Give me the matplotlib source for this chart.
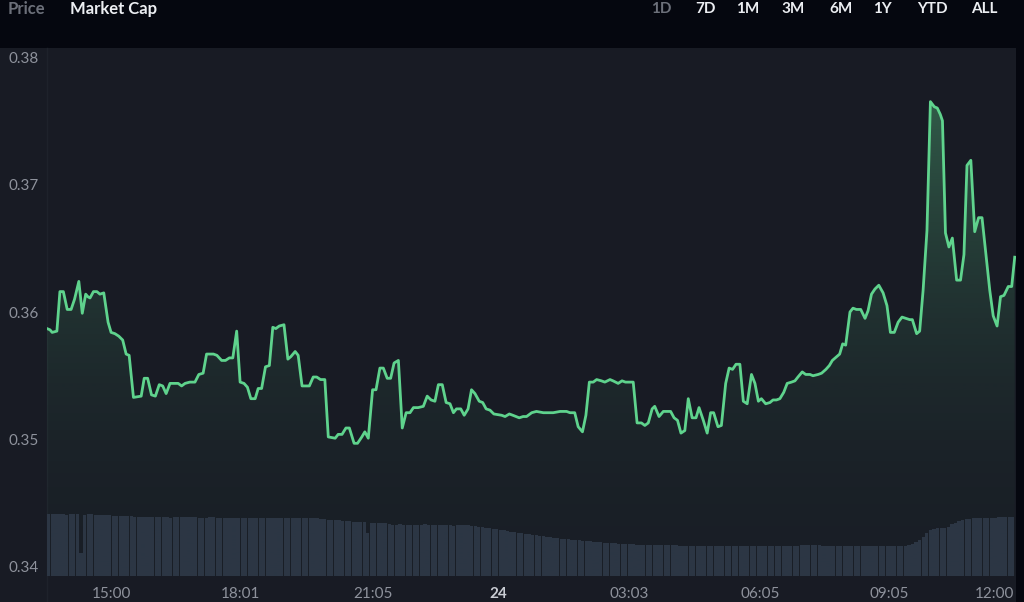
import numpy as np
import matplotlib
matplotlib.use("Agg")
import matplotlib.pyplot as plt
from matplotlib.patches import Rectangle
from matplotlib.lines import Line2D

# ==========================================================
# DATI: prezzo (ore continue, 24 = mezzanotte) e volume a 5 minuti
# ==========================================================

ore = [
    13.51, 13.58, 13.63, 13.74, 13.81, 13.89, 13.98, 14.07, 14.15, 14.25,
    14.33, 14.41, 14.46, 14.51, 14.59, 14.67, 14.74, 14.83, 14.93, 15.00,
    15.09, 15.18, 15.27, 15.35, 15.42, 15.52, 15.70, 15.77, 15.85, 15.94,
    16.03, 16.12, 16.20, 16.28, 16.37, 16.49, 16.56, 16.64, 16.72, 16.83,
    16.95, 17.04, 17.14, 17.22, 17.38, 17.46, 17.57, 17.66, 17.75, 17.83,
    17.92, 18.00, 18.09, 18.17, 18.25, 18.35, 18.42, 18.50, 18.59, 18.68,
    18.76, 18.83, 18.91, 19.02, 19.11, 19.18, 19.28, 19.35, 19.44, 19.61,
    19.70, 19.78, 19.87, 19.97, 20.05, 20.21, 20.28, 20.37, 20.46, 20.54,
    20.65, 20.73, 20.83, 20.90, 20.98, 21.08, 21.16, 21.25, 21.33, 21.42,
    21.50, 21.58, 21.68, 21.77, 21.86, 21.95, 22.03, 22.14,
    22.26, 22.35, 22.44, 22.53, 22.61, 22.70, 22.79, 22.88, 22.96, 23.03, 23.13, 23.21,
    23.30, 23.38, 23.46, 23.56, 23.64, 23.72, 23.81, 23.90, 24.08, 24.16,
    24.26, 24.34, 24.49, 24.58, 24.66, 24.78, 24.89, 25.05, 25.28, 25.44,
    25.59, 25.67, 25.78, 25.86, 25.96, 26.04, 26.12, 26.21, 26.29, 26.40, 26.48,
    26.60, 26.67, 26.79, 26.88, 26.96, 27.06, 27.14, 27.23, 27.33,
    27.41, 27.49, 27.58, 27.64, 27.74, 27.84, 28.01, 28.09, 28.17, 28.25,
    28.34, 28.42, 28.51, 28.60, 28.67, 28.77, 28.86, 28.94, 29.01, 29.11,
    29.19, 29.29, 29.37, 29.45, 29.53, 29.62, 29.70, 29.79, 29.89, 29.97,
    30.05, 30.12, 30.22, 30.32, 30.39, 30.47, 30.55, 30.64, 30.72, 30.82,
    30.90, 30.97, 31.07, 31.15,
    31.25, 31.32, 31.44, 31.52, 31.62, 31.70, 31.77, 31.87, 31.94, 32.01, 32.08,
    32.18, 32.25, 32.33, 32.43, 32.53, 32.60, 32.68, 32.76, 32.85, 32.95,
    33.04, 33.12, 33.21, 33.30, 33.39, 33.48, 33.57, 33.63, 33.73, 33.80,
    33.88, 33.97, 34.05, 34.14, 34.21, 34.28, 34.33, 34.40, 34.48, 34.56,
    34.66, 34.75, 34.83, 34.90, 34.99, 35.08, 35.17, 35.25, 35.33, 35.43,
    35.51, 35.60, 35.68, 35.76, 35.86, 35.94, 36.01,
]

prezzo = [
    0.3587, 0.3586, 0.3584, 0.3585, 0.3616, 0.3616, 0.3602, 0.3602, 0.3610, 0.3624,
    0.3599, 0.3614, 0.3612, 0.3611, 0.3616, 0.3616, 0.3614, 0.3615, 0.3592, 0.3584,
    0.3583, 0.3581, 0.3578, 0.3567, 0.3566, 0.3533, 0.3534, 0.3548, 0.3548, 0.3535,
    0.3534, 0.3543, 0.3542, 0.3536, 0.3544, 0.3544, 0.3544, 0.3542, 0.3544, 0.3545,
    0.3545, 0.3551, 0.3552, 0.3567, 0.3567, 0.3566, 0.3562, 0.3562, 0.3564, 0.3564,
    0.3585, 0.3545, 0.3544, 0.3541, 0.3532, 0.3532, 0.3540, 0.3540, 0.3557, 0.3558,
    0.3588, 0.3587, 0.3589, 0.3590, 0.3563, 0.3565, 0.3569, 0.3566, 0.3542, 0.3542,
    0.3549, 0.3549, 0.3547, 0.3547, 0.3502, 0.3501, 0.3504, 0.3504, 0.3509, 0.3509,
    0.3497, 0.3497, 0.3502, 0.3506, 0.3501, 0.3539, 0.3539, 0.3556, 0.3556, 0.3548,
    0.3548, 0.3560, 0.3562, 0.3509, 0.3521, 0.3521, 0.3525, 0.3525,
    0.3526, 0.3534, 0.3531, 0.3530, 0.3543, 0.3543, 0.3529, 0.3528, 0.3521, 0.3524, 0.3524, 0.3519,
    0.3524, 0.3539, 0.3536, 0.3530, 0.3529, 0.3524, 0.3523, 0.3520, 0.3519, 0.3518,
    0.3520, 0.3519, 0.3517, 0.3518, 0.3518, 0.3521, 0.3522, 0.3521, 0.3521, 0.3522,
    0.3522, 0.3521, 0.3521, 0.3510, 0.3506, 0.3519, 0.3545, 0.3545, 0.3547, 0.3546, 0.3545,
    0.3547, 0.3546, 0.3544, 0.3546, 0.3545, 0.3545, 0.3545, 0.3513, 0.3513,
    0.3511, 0.3513, 0.3524, 0.3526, 0.3518, 0.3522, 0.3522, 0.3517, 0.3515, 0.3505,
    0.3507, 0.3532, 0.3517, 0.3517, 0.3525, 0.3515, 0.3505, 0.3521, 0.3521, 0.3510,
    0.3511, 0.3544, 0.3556, 0.3555, 0.3559, 0.3559, 0.3530, 0.3528, 0.3551, 0.3544,
    0.3530, 0.3532, 0.3528, 0.3529, 0.3531, 0.3531, 0.3532, 0.3537, 0.3544, 0.3545,
    0.3546, 0.3549, 0.3553, 0.3551,
    0.3551, 0.3550, 0.3551, 0.3552, 0.3555, 0.3558, 0.3562, 0.3565, 0.3567, 0.3575, 0.3574,
    0.3600, 0.3603, 0.3602, 0.3602, 0.3595, 0.3601, 0.3614, 0.3618, 0.3621, 0.3615,
    0.3605, 0.3584, 0.3584, 0.3592, 0.3596, 0.3595, 0.3594, 0.3594, 0.3583, 0.3585,
    0.3617, 0.3664, 0.3765, 0.3761, 0.3760, 0.3755, 0.3750, 0.3662, 0.3651, 0.3658,
    0.3625, 0.3625, 0.3645, 0.3715, 0.3719, 0.3663, 0.3674, 0.3674, 0.3649, 0.3617,
    0.3597, 0.3589, 0.3612, 0.3613, 0.3620, 0.3620, 0.3643,
]

# volume per intervallo da 5 minuti (unita' arbitrarie), primo intervallo alle 13:33
volume = [
    62, 62, 62, 62, 62, 61, 62, 62, 62,
    23,
    61, 62, 62, 61, 61, 61, 61, 61, 60, 60, 60, 60, 60, 60, 59, 59, 59, 59, 59,
    59, 59, 59, 59, 59, 58, 59, 59, 59, 59, 59, 59, 59, 58, 58, 58, 59, 59, 58, 58, 58, 58,
    58, 58, 58, 58, 58, 58, 58, 58, 58, 58, 58, 58, 58, 58, 58, 58, 58, 58, 58, 58,
    58, 58, 58, 58, 58, 57, 57, 56, 56, 56, 56,
    55, 55, 55, 54, 54, 54, 54,
    43,
    53, 53, 53, 53, 53, 52,
    51, 51, 52, 51, 51, 51, 51, 51, 51, 52, 51, 51, 51, 51, 51, 51, 51, 50, 51, 51, 51, 51,
    50, 50, 49, 49, 48, 48, 47, 47, 46, 46, 45,
    44, 44, 43, 43, 42, 42, 41, 41, 40, 40, 39, 39, 38, 38, 37, 37, 37, 36, 36, 36, 35, 35,
    35, 34, 34, 34, 33, 33, 33, 33, 32, 32, 32, 32, 32, 31, 31, 31, 31, 31, 31, 31,
    31, 31, 31, 31, 31, 30, 30, 30, 30, 30,
    30, 30, 30, 30, 30, 30, 30, 30, 30, 30, 30, 30, 30, 30, 30, 30, 30, 30, 30, 30,
    30, 30, 30, 30, 30, 30, 30, 30, 30, 31, 31, 31, 31, 31, 31, 30, 30, 30, 30, 30,
    30, 30, 30, 30, 30, 30, 30, 30, 30, 30, 30, 30, 30, 30, 30, 30, 30, 30,
    30, 31, 32, 34,
    36, 39, 43, 46, 47, 48,
    48, 48, 49, 52, 53,
    55, 56, 57, 57, 58, 58, 58, 58, 58, 58, 58, 59, 59, 59, 59, 59,
]
vol_inizio = 13.55          # ora del primo intervallo
vol_passo = 5 / 60          # 5 minuti

tick_ore = [15, 18.017, 21.083, 24, 27.05, 30.083, 33.083, 36]
tick_etichette = ["15:00", "18:01", "21:05", "24", "03:03", "06:05", "09:05", "12:00"]
tick_prezzo = [0.34, 0.35, 0.36, 0.37, 0.38]
periodi = ["1D", "7D", "1M", "3M", "6M", "1Y", "YTD", "ALL"]

# ==========================================================
# STILE
# ==========================================================

SFONDO = "#05070f"
PANNELLO = "#181b24"
VERDE = "#5fd38d"
BARRE = "#2b3343"
TESTO = "#8e929c"
FONT = ["Lato", "DejaVu Sans"]

plt.rcParams["font.family"] = FONT

W, H = 1024, 602
fig = plt.figure(figsize=(W / 100, H / 100), dpi=100, facecolor=SFONDO)

# pannello grigio (area grafico + etichette assi), sotto a tutti gli assi
fig.patches.append(Rectangle((0, 0), 1016 / W, 554 / H, transform=fig.transFigure,
                             facecolor=PANNELLO, edgecolor="none", zorder=-2))
fig.lines.append(Line2D([47 / W, 47 / W], [0, 554 / H], transform=fig.transFigure,
                        color="#1e222b", lw=1, zorder=-1))

rect = [47 / W, 26 / H, 969 / W, 528 / H]
ax = fig.add_axes(rect)
ax2 = ax.twinx()
ax.set_zorder(ax2.get_zorder() + 1)
ax.patch.set_visible(False)
ax2.patch.set_visible(False)

# ----- volume -----
t_vol = vol_inizio + np.arange(len(volume)) * vol_passo
ax2.bar(t_vol, volume, width=vol_passo * 0.9, color=BARRE, linewidth=0)
ax2.set_ylim(0, max(volume) * 8.5)
ax2.set_yticks([])
for s in ax2.spines.values():
    s.set_visible(False)

# ----- prezzo -----
y0, y1 = 0.33929, 0.38071
x0, x1 = ore[0], 36.04

poly = ax.fill_between(ore, prezzo, y0, facecolor="none", edgecolor="none")
n = 256
frac = np.linspace(0, 1, n) ** 2
grad = np.zeros((n, 1, 4))
grad[:, 0, :3] = matplotlib.colors.to_rgb(VERDE)
grad[:, 0, 3] = 0.02 + 0.33 * frac
img = ax.imshow(grad, extent=[x0, x1, y0, max(prezzo)], origin="lower",
                aspect="auto", interpolation="bilinear", zorder=1)
img.set_clip_path(poly.get_paths()[0], transform=ax.transData)

ax.plot(ore, prezzo, color=VERDE, lw=2.0, solid_joinstyle="round", zorder=3)

ax.set_xlim(x0, x1)
ax.set_ylim(y0, y1)
for s in ax.spines.values():
    s.set_visible(False)

ax.set_yticks(tick_prezzo)
ax.set_yticklabels([f"{v:.2f}" for v in tick_prezzo])
ax.tick_params(axis="y", length=0, pad=28, labelsize=11, labelcolor=TESTO)
for lab in ax.get_yticklabels():
    lab.set_ha("left")

ax.set_xticks(tick_ore)
ax.set_xticklabels(tick_etichette)
ax.tick_params(axis="x", length=0, pad=8, labelsize=11, labelcolor=TESTO)
xl = ax.get_xticklabels()
xl[3].set_fontweight("bold")
xl[3].set_color("#c9ccd3")
xl[-1].set_ha("right")

# ----- intestazione -----
fig.text(8 / W, 1 - 9 / H, "Price", color="#6c707a", fontsize=12, fontweight="bold",
         va="center", ha="left")
fig.text(70 / W, 1 - 9 / H, "Market Cap", color="#eceef2", fontsize=12, fontweight="bold",
         va="center", ha="left")
pos_periodi = [661, 705, 748, 793, 841, 882, 932, 984]
for p, xp in zip(periodi, pos_periodi):
    fig.text(xp / W, 1 - 9 / H, p, color="#6c707a" if p == "1D" else "#eceef2",
             fontsize=11, fontweight="bold", va="center", ha="center")

fig.savefig("out.png", dpi=100, facecolor=SFONDO)
